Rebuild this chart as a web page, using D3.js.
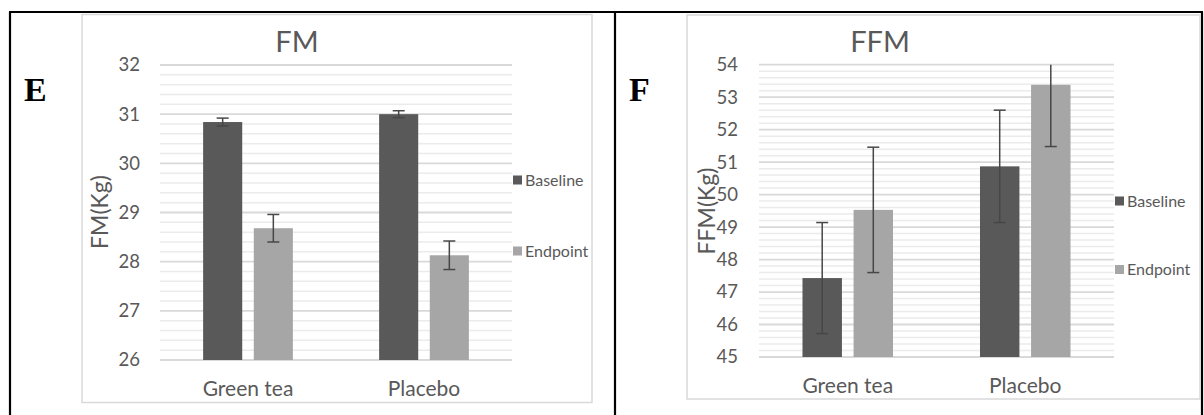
<!DOCTYPE html>
<html>
<head>
<meta charset="utf-8">
<script src="https://cdn.jsdelivr.net/npm/d3@7"></script>
<style>
  html, body { margin: 0; padding: 0; background: #fff; }
  svg { display: block; font-family: Lato, "Open Sans", sans-serif; }
</style>
</head>
<body>
<div id="chart"></div>
<script>
// data
var categories = ['Green tea', 'Placebo'];
var series = ['Baseline', 'Endpoint'];

var fmBaseline = [30.84, 31.0];
var fmBaselineErr = [0.08, 0.07];
var fmEndpoint = [28.68, 28.13];
var fmEndpointErr = [0.28, 0.29];
var fmTicks = [26, 27, 28, 29, 30, 31, 32];

var ffmBaseline = [47.43, 50.87];
var ffmBaselineErr = [1.71, 1.73];
var ffmEndpoint = [49.53, 53.38];
var ffmEndpointErr = [1.93, 1.9];
var ffmTicks = [45, 46, 47, 48, 49, 50, 51, 52, 53, 54];

(function() {
  var W = 1204, H = 415,
      colors = {Baseline: '#595959', Endpoint: '#a6a6a6'},
      textColor = '#595959';

  var svg = d3.select('#chart').append('svg')
    .attr('width', W)
    .attr('height', H);

  // table borders
  var border = [[10, 12, 10, H + 2], [9, 12, 1203, 12], [615, 12, 615, H + 2], [1202, 12, 1202, H + 2]];
  border.forEach(function(b) {
    svg.append('line')
      .attr('x1', b[0]).attr('y1', b[1]).attr('x2', b[2]).attr('y2', b[3])
      .attr('stroke', '#000').attr('stroke-width', 2.2);
  });

  function panel(cfg) {
    var g = svg.append('g');

    // panel letter
    g.append('text')
      .text(cfg.letter)
      .attr('x', cfg.letterX).attr('y', 101)
      .attr('font-family', '"Liberation Serif", "Times New Roman", serif')
      .attr('font-weight', 'bold')
      .attr('font-size', 34)
      .attr('fill', '#000');

    // chart box
    g.append('rect')
      .attr('x', cfg.box[0]).attr('y', cfg.box[1])
      .attr('width', cfg.box[2] - cfg.box[0]).attr('height', cfg.box[3] - cfg.box[1])
      .attr('fill', '#fff').attr('stroke', '#d9d9d9').attr('stroke-width', 1.5);

    var lo = cfg.ticks[0], hi = cfg.ticks[cfg.ticks.length - 1];
    var y = d3.scaleLinear().domain([lo, hi]).range(cfg.yRange);
    var x0 = d3.scaleBand().domain(categories).range(cfg.xRange)
      .paddingInner(0.49).paddingOuter(0.245);
    var x1 = d3.scaleBand().domain(series).range([0, x0.bandwidth()])
      .paddingInner(0.228);

    // minor gridlines (every 0.2)
    var minor = d3.range(lo * 5, hi * 5 + 1).map(function(v) { return v / 5; })
      .filter(function(v) { return Math.abs(v - Math.round(v)) > 1e-6; });
    g.selectAll('.minor').data(minor).enter().append('line')
      .attr('x1', cfg.xRange[0]).attr('x2', cfg.xRange[1])
      .attr('y1', function(d) { return y(d); }).attr('y2', function(d) { return y(d); })
      .attr('stroke', '#ebebeb').attr('stroke-width', 1.5);

    // major gridlines
    g.selectAll('.major').data(cfg.ticks).enter().append('line')
      .attr('x1', cfg.xRange[0]).attr('x2', cfg.xRange[1])
      .attr('y1', function(d) { return y(d); }).attr('y2', function(d) { return y(d); })
      .attr('stroke', '#d9d9d9').attr('stroke-width', 1.8);

    // y axis labels
    var ax = g.append('g')
      .attr('transform', 'translate(' + cfg.xRange[0] + ',0)')
      .call(d3.axisLeft(y).tickValues(cfg.ticks).tickFormat(d3.format('d'))
        .tickSize(0).tickPadding(cfg.tickPad));
    ax.select('.domain').remove();
    ax.selectAll('text')
      .attr('fill', textColor)
      .attr('font-family', 'Lato, sans-serif')
      .attr('font-size', 18.5);

    // bars
    var rows = [];
    categories.forEach(function(c, i) {
      rows.push({cat: c, s: 'Baseline', v: cfg.base[i], e: cfg.baseErr[i]});
      rows.push({cat: c, s: 'Endpoint', v: cfg.end[i], e: cfg.endErr[i]});
    });

    var bar = g.selectAll('.bar').data(rows).enter().append('g')
      .attr('transform', function(d) { return 'translate(' + (x0(d.cat) + x1(d.s)) + ',0)'; });

    bar.append('rect')
      .attr('y', function(d) { return y(d.v); })
      .attr('width', x1.bandwidth())
      .attr('height', function(d) { return y(lo) - y(d.v); })
      .attr('fill', function(d) { return colors[d.s]; });

    // error bars (clipped at axis max like Excel)
    var cx = x1.bandwidth() / 2, cap = 6;
    bar.each(function(d) {
      var b = d3.select(this),
          top = Math.min(d.v + d.e, hi),
          bot = d.v - d.e;
      b.append('line')
        .attr('x1', cx).attr('x2', cx)
        .attr('y1', y(top)).attr('y2', y(bot))
        .attr('stroke', '#474747').attr('stroke-width', 1.5);
      if (d.v + d.e <= hi) {
        b.append('line')
          .attr('x1', cx - cap).attr('x2', cx + cap)
          .attr('y1', y(top)).attr('y2', y(top))
          .attr('stroke', '#474747').attr('stroke-width', 1.5);
      }
      b.append('line')
        .attr('x1', cx - cap).attr('x2', cx + cap)
        .attr('y1', y(bot)).attr('y2', y(bot))
        .attr('stroke', '#474747').attr('stroke-width', 1.5);
    });

    // category labels
    g.selectAll('.cat').data(categories).enter().append('text')
      .text(function(d) { return d; })
      .attr('x', function(d) { return x0(d) + x0.bandwidth() / 2; })
      .attr('y', y(lo) + 36)
      .attr('text-anchor', 'middle')
      .attr('fill', textColor)
      .attr('font-size', 21);

    // title
    g.append('text')
      .text(cfg.title)
      .attr('x', cfg.titleX).attr('y', 52)
      .attr('text-anchor', 'middle')
      .attr('fill', textColor)
      .attr('font-size', 29);

    // y axis title
    g.append('text')
      .text(cfg.yLabel)
      .attr('transform', 'translate(' + cfg.yLabelPos[0] + ',' + cfg.yLabelPos[1] + ') rotate(-90)')
      .attr('text-anchor', 'middle')
      .attr('dy', '0.35em')
      .attr('fill', textColor)
      .attr('font-size', 23);

    // legend
    series.forEach(function(s, i) {
      var ly = cfg.legendY[i];
      g.append('rect')
        .attr('x', cfg.xRange[1] + 1).attr('y', ly - 4.5)
        .attr('width', 9).attr('height', 9)
        .attr('fill', colors[s]);
      g.append('text')
        .text(s)
        .attr('x', cfg.xRange[1] + 13).attr('y', ly)
        .attr('dy', '0.35em')
        .attr('fill', textColor)
        .attr('font-size', 16);
    });
  }

  panel({
    letter: 'E', letterX: 24,
    box: [82, 14.5, 592, 402.5],
    xRange: [160, 512], yRange: [360, 65],
    ticks: fmTicks, tickPad: 20,
    base: fmBaseline, baseErr: fmBaselineErr,
    end: fmEndpoint, endErr: fmEndpointErr,
    title: 'FM', titleX: 297,
    yLabel: 'FM(Kg)', yLabelPos: [100, 212],
    legendY: [180, 251]
  });

  panel({
    letter: 'F', letterX: 629,
    box: [687, 15, 1200, 399],
    xRange: [759, 1114], yRange: [357, 64.7],
    ticks: ffmTicks, tickPad: 21,
    base: ffmBaseline, baseErr: ffmBaselineErr,
    end: ffmEndpoint, endErr: ffmEndpointErr,
    title: 'FFM', titleX: 880,
    yLabel: 'FFM(Kg)', yLabelPos: [707, 211],
    legendY: [201, 269.5]
  });
})();
</script>
</body>
</html>
